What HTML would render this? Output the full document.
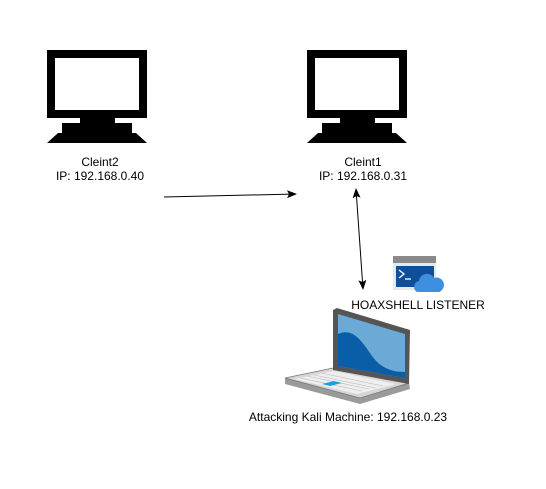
<!DOCTYPE html>
<html><head><style>
html,body{margin:0;padding:0;background:#fff;}
body{width:546px;height:489px;position:relative;overflow:hidden;font-family:"Liberation Sans",sans-serif;}
.t{position:absolute;font-size:12px;color:#000;text-align:center;line-height:14px;white-space:nowrap;}
</style></head><body>
<svg width="546" height="489" style="position:absolute;left:0;top:0">
<defs>
<g id="mon">
<rect x="47" y="50" width="100" height="68" fill="#000"/>
<rect x="55" y="58" width="84" height="52" fill="#fff"/>
<rect x="80" y="118" width="35" height="6" fill="#000"/>
<rect x="62" y="123" width="70" height="10" fill="#000"/>
<polygon points="58,133 136,133 147,143 47,143" fill="#000"/>
</g>
<marker id="ah" markerWidth="10" markerHeight="8" refX="9" refY="4" orient="auto" markerUnits="userSpaceOnUse">
<polygon points="0,0 10,4 0,8 2,4" fill="#000"/>
</marker>
<marker id="ahs" markerWidth="10" markerHeight="8" refX="1" refY="4" orient="auto" markerUnits="userSpaceOnUse">
<polygon points="10,0 0,4 10,8 8,4" fill="#000"/>
</marker>
</defs>
<use href="#mon"/>
<use href="#mon" x="260"/>
<line x1="164" y1="197" x2="296" y2="194" stroke="#000" stroke-width="1" marker-end="url(#ah)"/>
<line x1="356" y1="189" x2="363" y2="289" stroke="#000" stroke-width="1" marker-start="url(#ahs)" marker-end="url(#ah)"/>
<!-- hoaxshell icon -->
<rect x="393" y="256" width="43" height="34" fill="#e8e8e8"/>
<rect x="393" y="256" width="43" height="7" fill="#8a8a8a"/>
<rect x="396" y="266" width="38" height="21" fill="#0f4f9a"/>
<polyline points="399,270 404,274 399,278" fill="none" stroke="#fff" stroke-width="1.3"/>
<line x1="405" y1="279" x2="411" y2="279" stroke="#fff" stroke-width="1.3"/>
<path d="M417,292 a6,6 0 0 1 2,-11 a8,8 0 0 1 15,-3 a7,7 0 0 1 5,14 z" fill="#3d8fe0"/>
<!-- laptop base -->
<polygon points="285,378 333,368 409,383 410,389 360,404 285,384" fill="#9a9a9a"/>
<polygon points="285,378 333,368 409,383 360,398" fill="#d6d6d6" stroke="#777" stroke-width="0.8"/>
<polygon points="294,379 334,371 396,384 357,394" fill="#eeeeee"/>
<g stroke="#bcbcbc" stroke-width="0.6">
<line x1="300" y1="378" x2="362" y2="391"/>
<line x1="307" y1="376" x2="369" y2="389"/>
<line x1="314" y1="375" x2="376" y2="388"/>
<line x1="321" y1="373" x2="383" y2="386"/>
</g>
<polygon points="322,384 334,381 342,383 330,386" fill="#1f9fe0"/>
<!-- lid -->
<polygon points="333,310 337,308 410,330 409,384 333,370" fill="#555"/>
<polygon points="338,314 405,334 405,378 338,366" fill="#6ba9d6"/>
<path d="M338,334 C352,328 360,338 372,356 C382,370 395,372 405,372 L405,378 L338,366 Z" fill="#0a5ea8"/>
</svg>
<div class="t" style="left:50px;top:155px;width:100px">Cleint2<br>IP: 192.168.0.40</div>
<div class="t" style="left:313px;top:155px;width:100px">Cleint1<br>IP: 192.168.0.31</div>
<div class="t" style="left:348px;top:298px;width:140px">HOAXSHELL LISTENER</div>
<div class="t" style="left:238px;top:410px;width:220px">Attacking Kali Machine: 192.168.0.23</div>
</body></html>
